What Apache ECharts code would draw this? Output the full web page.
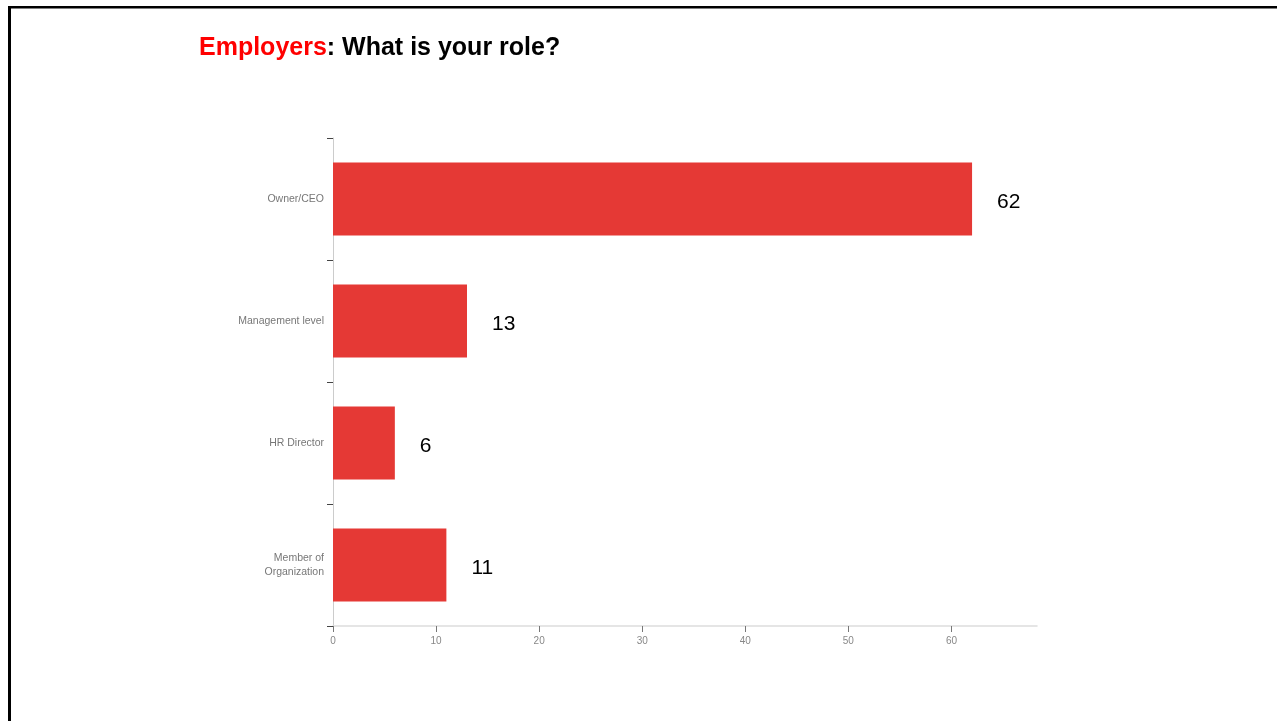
<!DOCTYPE html>
<html>
<head>
<meta charset="utf-8">
<script src="https://cdn.jsdelivr.net/npm/echarts@6/dist/echarts.min.js"></script>
<style>
html,body{margin:0;padding:0;background:#fff;}
#chart{width:1277px;height:721px;}
</style>
</head>
<body>
<div id="chart"></div>
<script>
const categories = ['Owner/CEO', 'Management level', 'HR Director', 'Member of\nOrganization'];
const values = [62, 13, 6, 11];
const xTicks = [0, 10, 20, 30, 40, 50, 60];

const chart = echarts.init(document.getElementById('chart'));
chart.setOption({
  animation: false,
  backgroundColor: '#ffffff',
  title: {
    left: 194,
    top: 31,
    text: '{r|Employers}{b|: What is your role?}',
    textStyle: {
      rich: {
        r: { color: '#ff0000', fontSize: 25, fontWeight: 'bold', fontFamily: 'Liberation Sans, Arial, sans-serif' },
        b: { color: '#000000', fontSize: 25, fontWeight: 'bold', fontFamily: 'Liberation Sans, Arial, sans-serif' }
      }
    }
  },
  graphic: [
    { type: 'rect', shape: { x: 8, y: 6, width: 3, height: 715 }, style: { fill: '#000' } },
    { type: 'rect', shape: { x: 8, y: 6, width: 1269, height: 2.5 }, style: { fill: '#000' } }
  ],
  grid: { left: 333, top: 138, right: 240, bottom: 95, containLabel: false },
  xAxis: {
    type: 'value',
    min: 0,
    max: 68.3,
    interval: 10,
    splitLine: { show: false },
    axisLine: { show: true, lineStyle: { color: '#dddddd', width: 1.5 } },
    axisTick: { show: true, length: 6, inside: false, lineStyle: { color: '#777' } },
    axisLabel: {
      color: '#888',
      fontSize: 10,
      fontFamily: 'Liberation Sans Narrow, Arial Narrow, Liberation Sans, sans-serif',
      margin: 10,
      showMaxLabel: false,
      formatter: function (v) { return xTicks.indexOf(v) >= 0 ? String(v) : ''; }
    }
  },
  yAxis: {
    type: 'category',
    data: categories,
    inverse: true,
    axisLine: { show: true, lineStyle: { color: '#cccccc', width: 1 } },
    axisTick: { show: true, length: 6, lineStyle: { color: '#444' } },
    axisLabel: {
      color: '#777',
      fontSize: 10.5,
      lineHeight: 14,
      fontFamily: 'Liberation Sans Narrow, Arial Narrow, Liberation Sans, sans-serif',
      margin: 9,
      align: 'right'
    }
  },
  series: [{
    type: 'bar',
    data: values,
    barCategoryGap: '40%',
    itemStyle: { color: '#e53935' },
    label: {
      show: true,
      position: 'right',
      distance: 25,
      offset: [0, 3],
      color: '#000',
      fontSize: 21,
      fontFamily: 'Liberation Sans, Arial, sans-serif'
    }
  }]
});
</script>
</body>
</html>
